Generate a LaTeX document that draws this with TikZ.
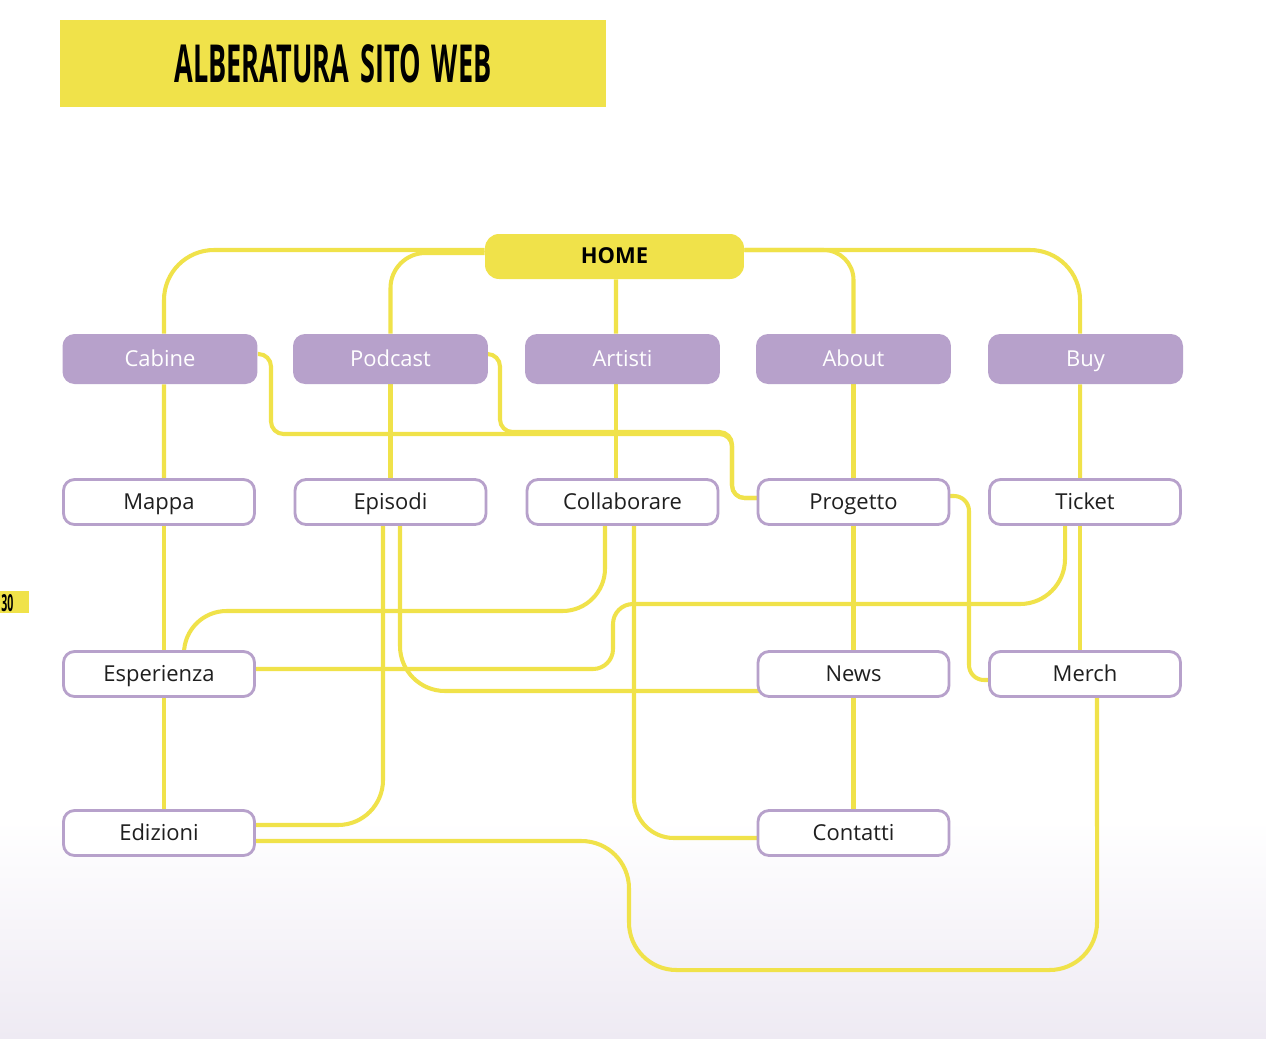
\documentclass[tikz,border=0pt]{standalone}
\usepackage{graphicx}
\usepackage{fontspec}
\setmainfont{Open Sans}
\usepackage{tikz}
\usetikzlibrary{backgrounds}
\definecolor{giallo}{RGB}{240,226,74}
\definecolor{lilla}{RGB}{183,161,203}
\definecolor{fondo}{RGB}{238,234,243}

\begin{document}
\begin{tikzpicture}[x=0.02cm, y=-0.02cm,
    sezione/.style={shape=rectangle, rounded corners=0.24cm, fill=lilla, text=white,
        minimum width=3.9cm, minimum height=1cm, inner sep=0pt, text height=0.38cm, text depth=0.1cm,
        font=\fontsize{12.5}{15}\selectfont},
    pagina/.style={shape=rectangle, rounded corners=0.22cm, draw=lilla, line width=1.6pt,
        fill=white, text=black!88, minimum width=3.82cm, minimum height=0.9cm, inner sep=0pt,
        text height=0.38cm, text depth=0.1cm, font=\fontsize{12.5}{15}\selectfont},
    link/.style={draw=giallo, line width=2.3pt}]
    \useasboundingbox (0,0) rectangle (1266,1038);

    \node[fill=giallo, minimum width=10.92cm, minimum height=1.74cm, inner sep=0pt] at (333,63.5) (titolo) {\raisebox{-0.05cm}{\resizebox{6.34cm}{0.76cm}{\bfseries ALBERATURA\hspace{0.15em} SITO\hspace{0.15em} WEB}}};
    \fill[giallo] (0,591) rectangle (29,613);
    \node[anchor=west, inner sep=0pt] at (1,603) (pagnum) {\resizebox{0.24cm}{0.34cm}{\bfseries 30}};

    \node[fill=giallo, rounded corners=0.28cm, minimum width=5.18cm, minimum height=0.9cm,
        inner sep=0pt, text height=0.38cm, text depth=0.1cm,
        font=\fontsize{12.5}{15}\selectfont\bfseries] at (614.5,256.5) (HOME) {HOME};

    \node[sezione] at (160,359) (Cabine) {Cabine};
    \node[sezione] at (390.5,359) (Podcast) {Podcast};
    \node[sezione] at (622.5,359) (Artisti) {Artisti};
    \node[sezione] at (853.5,359) (About) {About};
    \node[sezione] at (1085.5,359) (Buy) {Buy};

    \node[pagina] at (159,502) (Mappa) {Mappa};
    \node[pagina] at (390.5,502) (Episodi) {Episodi};
    \node[pagina] at (622.5,502) (Collaborare) {Collaborare};
    \node[pagina] at (853.5,502) (Progetto) {Progetto};
    \node[pagina] at (1085,502) (Ticket) {Ticket};
    \node[pagina] at (159,674) (Esperienza) {Esperienza};
    \node[pagina] at (853.5,674) (News) {News};
    \node[pagina] at (1085,674) (Merch) {Merch};
    \node[pagina] at (159,833) (Edizioni) {Edizioni};
    \node[pagina] at (853.5,833) (Contatti) {Contatti};

    \begin{scope}[on background layer]
        \fill[white] (0,0) rectangle (1266,820);
        \shade[top color=white, bottom color=fondo] (0,820) rectangle (1266,1038);

        % home
        \draw[link, rounded corners=1cm] ([yshift=0.13cm]HOME.west) -- (164,250) -- ([xshift=0.08cm]Cabine.north);
        \draw[link, rounded corners=0.7cm] ([yshift=0.07cm]HOME.west) -- (390.5,253) -- (Podcast.north);
        \draw[link] ([xshift=0.03cm]HOME.south) -- ([xshift=-0.13cm]Artisti.north);
        \draw[link, rounded corners=0.6cm] ([yshift=0.13cm]HOME.east) -- (853.5,250) -- (About.north);
        \draw[link, rounded corners=1cm] ([yshift=0.13cm]HOME.east) -- (1080,250) -- ([xshift=-0.11cm]Buy.north);

        % colonne
        \draw[link] ([xshift=0.08cm]Cabine.south) -- ([xshift=0.1cm]Mappa.north);
        \draw[link] ([xshift=0.1cm]Mappa.south) -- ([xshift=0.1cm]Esperienza.north);
        \draw[link] ([xshift=0.1cm]Esperienza.south) -- ([xshift=0.1cm]Edizioni.north);
        \draw[link] (Podcast.south) -- (Episodi.north);
        \draw[link] ([xshift=-0.13cm]Artisti.south) -- ([xshift=-0.13cm]Collaborare.north);
        \draw[link] (About.south) -- (Progetto.north);
        \draw[link] (Progetto.south) -- (News.north);
        \draw[link] (News.south) -- (Contatti.north);
        \draw[link] ([xshift=-0.11cm]Buy.south) -- ([xshift=-0.1cm]Ticket.north);
        \draw[link] ([xshift=-0.1cm]Ticket.south) -- ([xshift=-0.1cm]Merch.north);

        % collegamenti
        \draw[link, rounded corners=0.25cm] ([yshift=0.1cm]Cabine.east) -- (271,354) -- (271,434) -- (732,434) -- (732,498) -- ([xshift=0.1cm, yshift=0.08cm]Progetto.west);
        \draw[link, rounded corners=0.25cm] ([yshift=0.1cm]Podcast.east) -- (500,354) -- (500,432) -- (732,432) -- (732,498) -- ([xshift=0.1cm, yshift=0.08cm]Progetto.west);
        \draw[link, rounded corners=0.85cm] ([xshift=-0.35cm]Collaborare.south) -- (605,611) -- (184,611) -- ([xshift=0.5cm]Esperienza.north);
        \draw[link, rounded corners=0.9cm] ([xshift=-0.4cm]Ticket.south) -- (1065,604) [rounded corners=0.4cm] -- (613,604) -- (613,669) -- ([xshift=-0.1cm, yshift=0.1cm]Esperienza.east);
        \draw[link, rounded corners=0.9cm] ([xshift=-0.15cm]Episodi.south) -- (383,825) -- ([xshift=-0.1cm, yshift=0.16cm]Edizioni.east);
        \draw[link, rounded corners=0.9cm] ([xshift=0.19cm]Episodi.south) -- (400,691) -- ([xshift=0.2cm, yshift=-0.34cm]News.west);
        \draw[link, rounded corners=0.8cm] ([xshift=0.23cm]Collaborare.south) -- (634,838) -- ([xshift=0.1cm, yshift=-0.1cm]Contatti.west);
        \draw[link, rounded corners=0.3cm] ([xshift=-0.1cm, yshift=0.12cm]Progetto.east) -- (969,496) -- (969,680) -- ([xshift=0.1cm, yshift=-0.12cm]Merch.west);
        \draw[link, rounded corners=0.95cm] ([xshift=-0.1cm, yshift=-0.16cm]Edizioni.east) -- (629,841) -- (629,970) -- (1097,970) -- ([xshift=0.24cm, yshift=0.1cm]Merch.south);
    \end{scope}
\end{tikzpicture}
\end{document}
